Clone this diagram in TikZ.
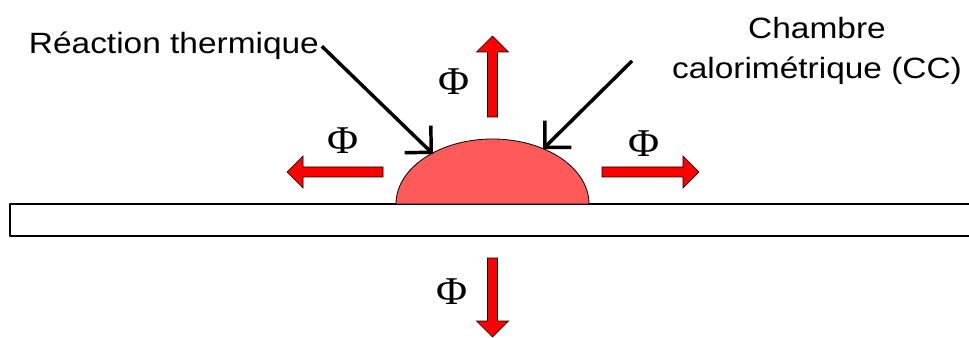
\documentclass[tikz,border=0pt]{standalone}
\usepackage{fontspec}
\setmainfont{Liberation Sans}[FakeStretch=1.14]
\newfontfamily\phifont{Liberation Serif}[FakeStretch=1.08]
\usetikzlibrary{arrows.meta}
\definecolor{dropred}{RGB}{255,90,90}
% fleche pleine : #1 depart, #2 angle, #3 longueur
\newcommand{\fluxarrow}[3]{%
  \draw[flux,shift={#1},rotate=#2] (0,-5) -- ({#3-16},-5) -- ({#3-16},-16) -- (#3,0)
    -- ({#3-16},16) -- ({#3-16},5) -- (0,5) -- cycle;}
\begin{document}
\begin{tikzpicture}[x=0.75pt,y=-0.75pt,line join=round,
    flux/.style={fill=red,draw=black,line width=0.5pt,line join=miter},
    pointer/.style={line width=2.6pt,-{Straight Barb[angle=90:20pt]}},
    lbl/.style={font=\fontsize{22}{30}\selectfont,inner sep=2pt},
    phi/.style={font=\phifont\fontsize{29.5}{30}\selectfont,inner sep=0pt}]
  \useasboundingbox (0,0) rectangle (969,338);
  % plaque
  \draw[line width=0.8pt] (975,204) -- (10,204) -- (10,236) -- (975,236);
  % goutte
  \draw[fill=dropred,line width=0.6pt] (396,204)
    arc[start angle=180,end angle=360,x radius=96.5,y radius=65] -- cycle;
  % flux
  \fluxarrow{(492.5,117)}{90}{81}
  \fluxarrow{(383,172)}{180}{96}
  \fluxarrow{(602,172)}{0}{97}
  \fluxarrow{(492.5,258)}{-90}{79}
  \node[phi] (phil) at (343,141) {Φ};
  \node[phi] (phiu) at (454,82) {Φ};
  \node[phi] (phir) at (644,144) {Φ};
  \node[phi] (phid) at (452,292) {Φ};
  % legendes
  \node[lbl,anchor=base west] (reac) at (26,54) {Réaction thermique};
  \node[lbl,align=center] (cc) at (817,51) {Chambre\\calorimétrique (CC)};
  \coordinate (reactip) at (433,154);
  \coordinate (ccfrom) at (632,61);
  \coordinate (cctip) at (543,149);
  \draw[pointer] (reac.east) -- (reactip);
  \draw[pointer] (ccfrom) -- (cctip);
\end{tikzpicture}
\end{document}
